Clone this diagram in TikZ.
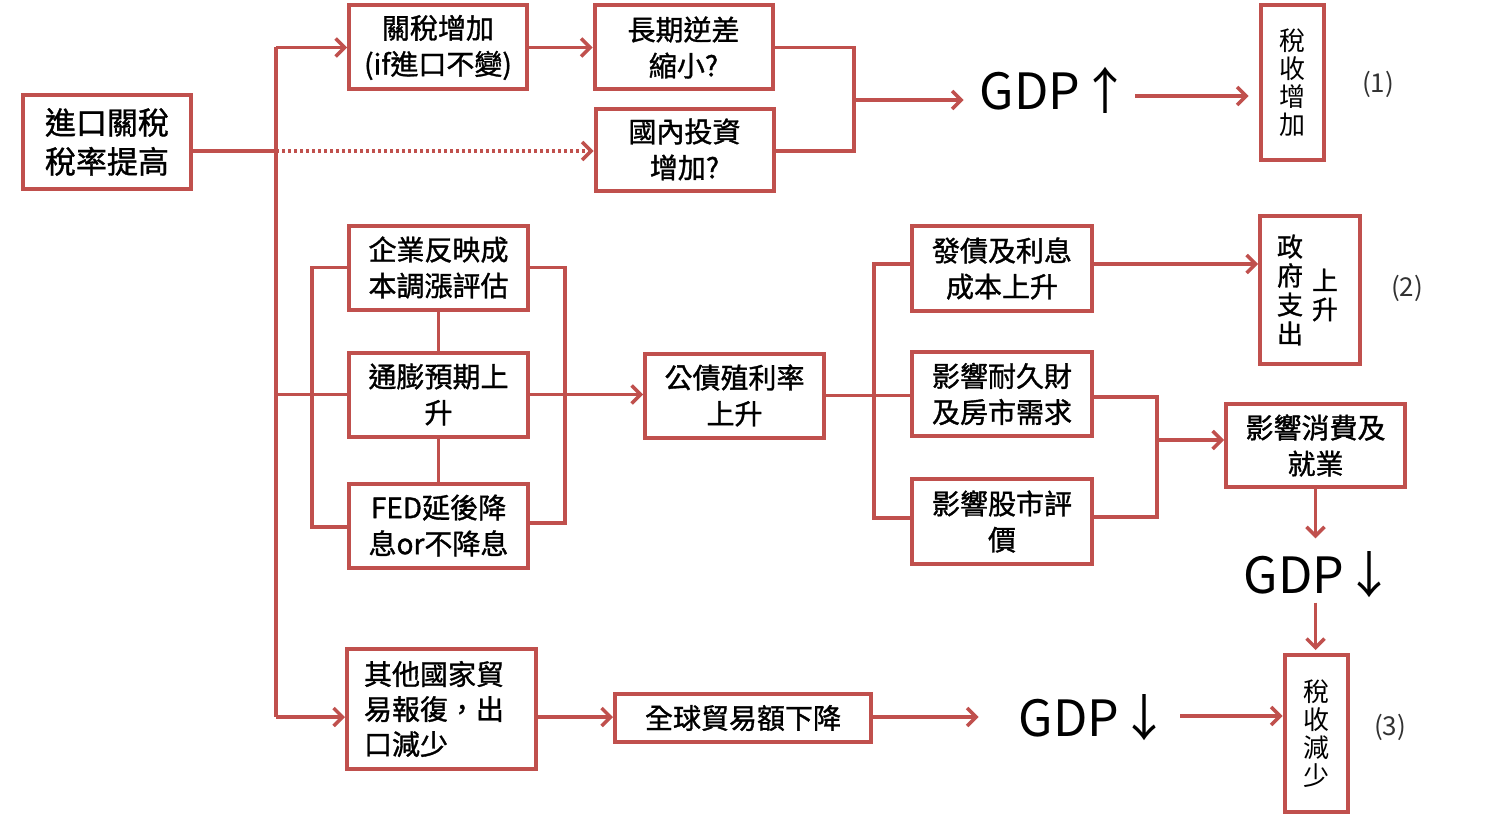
\documentclass[tikz,border=0pt]{standalone}
\usepackage{fontspec}
\setmainfont{Noto Sans CJK TC}
\newfontfamily\heavyfont{Noto Sans CJK TC}[RawFeature={embolden=1.2}]
\usetikzlibrary{arrows.meta}
\definecolor{boxred}{RGB}{192,80,77}
\definecolor{numgray}{RGB}{50,50,50}
\begin{document}
\begin{tikzpicture}[x=1pt,y=-1pt,
  box/.style={draw=boxred, line width=4pt, rectangle, inner sep=0pt, align=center,
    font=\heavyfont\fontsize{28}{36}\selectfont},
  vbox/.style={draw=boxred, line width=4pt, rectangle, inner sep=0pt, align=center,
    font=\fontsize{26}{28}\selectfont},
  vtext/.style={inner sep=0pt, align=center, font=\heavyfont\fontsize{26}{29}\selectfont},
  gdp/.style={inner sep=0pt, text height=37pt, text depth=0pt, font=\fontsize{50}{50}\selectfont},
  num/.style={inner sep=0pt, text=numgray, font=\fontsize{26}{26}\selectfont},
  conn/.style={draw=boxred, line width=3.5pt},
  arr/.style={conn, -{Straight Barb[length=9pt,width=18pt]}},
  dotconn/.style={arr, dash pattern=on 3pt off 3pt}
]
\fill[white] (0,0) rectangle (1500,816);
\useasboundingbox (0,0) rectangle (1500,816);

% boxes
\node[box, minimum width=168pt, minimum height=94pt, font=\heavyfont\fontsize{31}{39}\selectfont] (A) at (107,142) {進口關稅\\稅率提高};
\node[box, minimum width=178pt, minimum height=84pt] (B) at (438,47.5) {關稅增加\\(if進口不變)};
\node[box, minimum width=178pt, minimum height=84pt] (C) at (683.5,47.5) {長期逆差\\縮小?};
\node[box, minimum width=178pt, minimum height=82pt] (D) at (684.5,149.5) {國內投資\\增加?};
\node[vbox, minimum width=63pt, minimum height=155pt] (E) at (1292,82.5) {稅\\收\\增\\加};

\node[box, minimum width=179pt, minimum height=84pt] (G) at (438.5,267.5) {企業反映成\\本調漲評估};
\node[box, minimum width=179pt, minimum height=84pt] (H) at (438.5,394.5) {通膨預期上\\升};
\node[box, minimum width=179pt, minimum height=84pt] (I) at (438.5,525.5) {FED延後降\\息or不降息};
\node[box, minimum width=179pt, minimum height=84pt] (J) at (734.5,395.5) {公債殖利率\\上升};

\node[box, minimum width=180pt, minimum height=85pt] (K) at (1002,268.5) {發債及利息\\成本上升};
\node[box, minimum width=180pt, minimum height=84pt] (L) at (1002,394) {影響耐久財\\及房市需求};
\node[box, minimum width=180pt, minimum height=85pt] (M) at (1002,521.5) {影響股市評\\價};
\node[box, minimum width=100pt, minimum height=148pt] (N) at (1310,290) {};
\node[vtext] (Na) at (1290,290) {政\\府\\支\\出};
\node[vtext] (Nb) at (1325,295) {上\\升};
\node[box, minimum width=179pt, minimum height=83pt] (O) at (1315.5,445.5) {影響消費及\\就業};
\node[vbox, minimum width=63pt, minimum height=157pt] (P) at (1316,733.5) {稅\\收\\減\\少};

\node[box, minimum width=189pt, minimum height=120pt, text width=155pt, align=left, font=\heavyfont\fontsize{28}{35}\selectfont] (F) at (441.5,709) {其他國家貿\\易報復，出\\口減少};
\node[box, minimum width=256pt, minimum height=48pt] (Q) at (743,718) {全球貿易額下降};

% GDP texts
\node[gdp] (g1) at (1055,91) {GDP↑};
\node[gdp] (g2) at (1319,575) {GDP↓};
\node[gdp] (g3) at (1094,718) {GDP↓};

% numbers
\node[num] (n1) at (1378,84) {(1)};
\node[num] (n2) at (1407,288) {(2)};
\node[num] (n3) at (1390,727) {(3)};

% trunk coordinates
\coordinate (tTop) at (276,47.5);
\coordinate (tA) at (276,151);
\coordinate (tH) at (276,394.5);
\coordinate (tF) at (276,717);
\coordinate (br1t) at (854,47.5);
\coordinate (br1b) at (854,151);
\coordinate (br1m) at (854,100);
\coordinate (lbt) at (312,267.5);
\coordinate (lbb) at (312,527);
\coordinate (rbt) at (565,267.5);
\coordinate (rbb) at (565,523);
\coordinate (b2t) at (874,264);
\coordinate (b2b) at (874,518);
\coordinate (b3t) at (1157,397);
\coordinate (b3b) at (1157,517);
\coordinate (b3m) at (1157,440);

% connectors
\draw[conn] (A.east |- tA) -- (tA);
\draw[conn] (tTop) -- (tF);
\draw[arr] (tTop) -- (B.west);
\draw[dotconn] (tA) -- (D.west |- tA);
\draw[arr] (B.east) -- (C.west);
\draw[conn] (C.east) -- (br1t) -- (br1b) -- (D.east |- br1b);
\draw[arr, shorten >=16pt] (br1m) -- (g1.west |- br1m);
\draw[arr, shorten <=5pt, shorten >=10pt] (g1.east |- 0,96) -- (E.west |- 0,96);

\draw[conn] (tH) -- (H.west);
\draw[conn] (G.south) -- (H.north);
\draw[conn] (H.south) -- (I.north);
\draw[conn] (G.west) -- (lbt) -- (lbb) -- (I.west |- lbb);
\draw[conn] (G.east) -- (rbt) -- (rbb) -- (I.east |- rbb);
\draw[arr] (H.east) -- (J.west |- H.east);

\draw[conn] (J.east) -- (L.west |- J.east);
\draw[conn] (K.west |- b2t) -- (b2t) -- (b2b) -- (M.west |- b2b);
\draw[arr] (K.east |- b2t) -- (N.west |- b2t);
\draw[conn] (L.east |- b3t) -- (b3t) -- (b3b) -- (M.east |- b3b);
\draw[arr] (b3m) -- (O.west |- b3m);
\draw[arr, shorten >=18pt] (O.south) -- (O.south |- g2.north);
\draw[arr, shorten <=9pt, shorten >=3pt] (O.south |- g2.south) -- (O.south |- P.north);

\draw[arr] (tF) -- (F.west |- tF);
\draw[arr] (F.east |- tF) -- (Q.west |- tF);
\draw[arr, shorten >=40pt] (Q.east |- tF) -- (g3.west |- tF);
\draw[arr, shorten <=11pt] (g3.east |- 0,716) -- (P.west |- 0,716);
\end{tikzpicture}
\end{document}
